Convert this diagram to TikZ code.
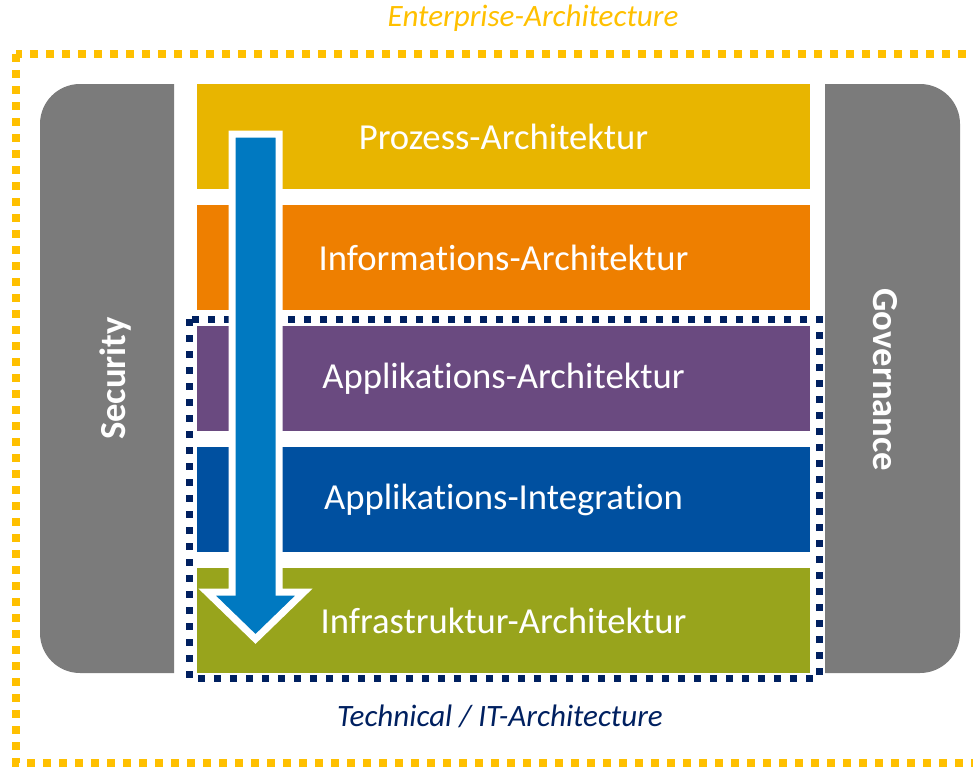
\documentclass[tikz,border=0pt]{standalone}
\usepackage{fontspec}
\setmainfont{Carlito}[RawFeature = {-liga;-clig;-calt}]
\definecolor{prozess}{HTML}{E8B500}
\definecolor{information}{HTML}{EE7F00}
\definecolor{applikation}{HTML}{6A4A80}
\definecolor{integration}{HTML}{0050A0}
\definecolor{infra}{HTML}{98A41C}
\definecolor{sidegray}{HTML}{7B7B7B}
\definecolor{arrowblue}{HTML}{0079C1}
\definecolor{enterprise}{HTML}{FFC000}
\definecolor{technical}{HTML}{002060}

\begin{document}
\begin{tikzpicture}[x = 0.75pt, y = -0.75pt]
    \tikzset{
        layer/.style = {minimum width = 459.75pt, minimum height = 78.75pt, inner sep = 0pt, text = white, font = \fontsize{27.5}{30}\selectfont},
        side/.style = {inner sep = 0pt, text = white, font = \fontsize{27.5}{30}\selectfont\bfseries},
        caption/.style = {inner sep = 0pt, font = \fontsize{23.3}{26}\selectfont\itshape}
    }
    \def\lx{503.5}
    \useasboundingbox (0,0) rectangle (973,767);

    % seitliche Saeulen
    \begin{scope}
        \clip (40,84) rectangle (174,673);
        \fill [sidegray, rounded corners = 30pt](40,84) rectangle (260,673);
    \end{scope}
    \begin{scope}
        \clip (825,84) rectangle (960,673);
        \fill [sidegray, rounded corners = 30pt](740,84) rectangle (960,673);
    \end{scope}
    \node [side, rotate = 90] (sec) at (115.5, 378.5) {Security};
    \node [side, rotate = -90] (gov) at (885, 380) {Governance};

    % Schichten
    \node [layer, fill = prozess] (pa) at (\lx, 136.5) {Prozess-Architektur};
    \node [layer, fill = information] (ia) at (\lx, 257.5) {Informations-Architektur};
    \node [layer, fill = applikation] (aa) at (\lx, 378.5) {Applikations-Architektur};
    \node [layer, fill = integration] (ai) at (\lx, 499.5) {Applikations-Integration};
    \node [layer, fill = infra] (ra) at (\lx, 620.5) {Infrastruktur-Architektur};

    % Rahmen
    \draw [enterprise, line width = 6pt, dash pattern = on 6pt off 6pt](16,54) rectangle (990,763);
    \draw [technical, line width = 5.25pt, dash pattern = on 5.25pt off 6.75pt](189,319) rectangle (819,678);
    \node [caption, text = enterprise] (ea) at (533, 18) {Enterprise-Architecture};
    \node [caption, text = technical] (ta) at (500, 716) {Technical / IT-Architecture};

    % Pfeil
    \draw [white, line width = 5.25pt, fill = arrowblue](232,134) -- (279,134) -- (279,592) -- (304,592) -- (255.5,639) -- (207,592) -- (232,592) -- cycle;
\end{tikzpicture}
\end{document}
